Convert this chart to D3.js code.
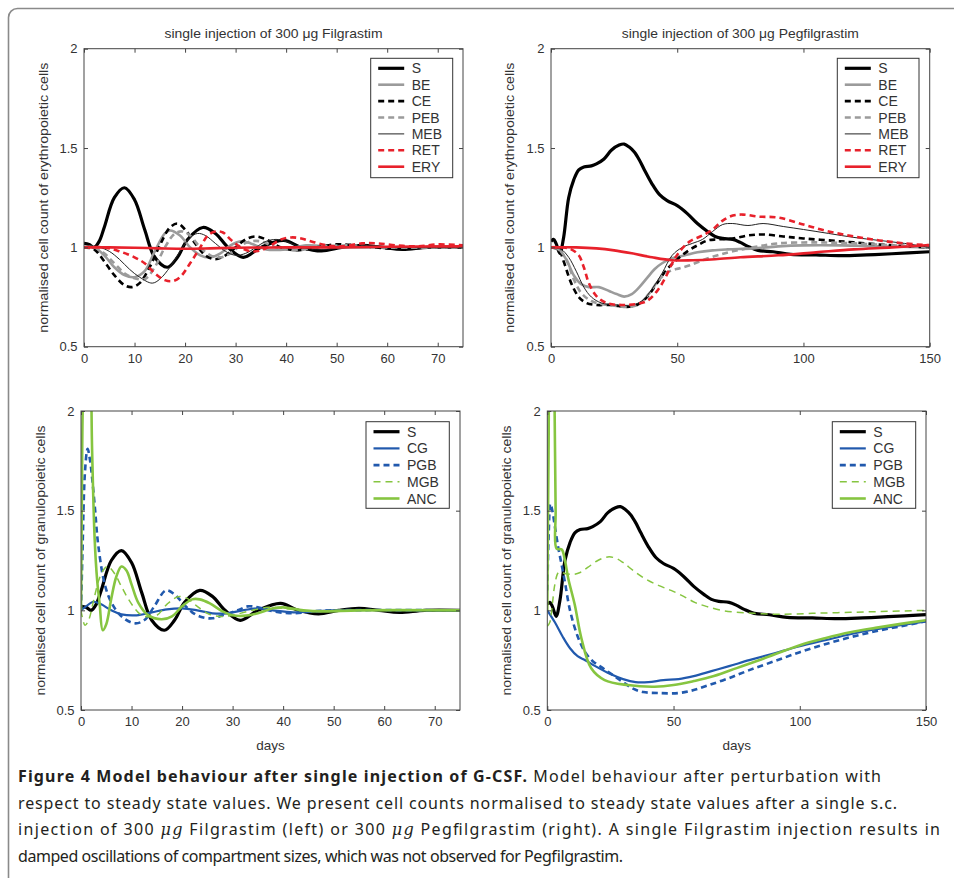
<!DOCTYPE html>
<html>
<head>
<meta charset="utf-8">
<script src="https://cdn.jsdelivr.net/npm/d3@7.9.0/dist/d3.min.js"></script>
<style>
body { margin: 0; background: #fff; }
svg { display: block; font-family: "Liberation Sans", Arial, sans-serif; }
</style>
</head>
<body>
<svg id="fig" width="954" height="878"></svg>
<script>
// ---- tick labels / categories ----
const ticksFil = [0, 10, 20, 30, 40, 50, 60, 70];
const ticksPeg = [0, 50, 100, 150];
const ticksY = [0.5, 1, 1.5, 2];
const eryNames = ["S", "BE", "CE", "PEB", "MEB", "RET", "ERY"];
const graNames = ["S", "CG", "PGB", "MGB", "ANC"];

// ---- Filgrastim (days 0-75), [day, normalised count] ----
const filS = [[0,1.02],[1,1.015],[2,1.0],[3,1.03],[4,1.1],[6,1.25],[8,1.30],[10,1.24],[12,1.09],[14,0.95],[16.5,0.9],[18.5,0.95],[20.5,1.04],[23.5,1.1],[26,1.07],[28.5,1.0],[31.5,0.95],[35,1.0],[39.5,1.035],[43,1.0],[47,0.982],[51,1.0],[55,1.01],[59,1.0],[63,0.99],[68,1.0],[75,1.0]];
const filBE = [[0,1.0],[2,1.0],[4,0.96],[6,0.9],[8,0.86],[10,0.85],[12,0.88],[14,0.98],[16,1.07],[17,1.085],[19,1.06],[21,1.0],[23,0.96],[25,0.95],[27,0.97],[29,1.01],[31,1.03],[33,1.02],[36,0.99],[40,0.99],[44,1.01],[50,1.0],[60,1.0],[75,1.0]];
const filCE = [[0,1.0],[2,0.99],[4,0.93],[6,0.86],[8,0.81],[9.5,0.8],[11,0.82],[13,0.9],[15,1.01],[17,1.1],[18.5,1.12],[20,1.09],[22,1.02],[24,0.96],[26,0.94],[28,0.96],[30,1.0],[32,1.04],[34,1.055],[36,1.04],[39,1.0],[42,0.985],[46,1.0],[50,1.015],[54,1.01],[60,0.995],[66,1.0],[75,1.0]];
const filPEB = [[0,1.0],[2,1.0],[4,0.97],[6,0.92],[8,0.87],[10,0.845],[12,0.84],[14,0.9],[16,1.0],[18,1.07],[19.5,1.08],[21,1.06],[23,1.0],[25,0.96],[27,0.95],[29,0.97],[31,1.01],[33,1.03],[35,1.03],[38,1.0],[42,0.985],[46,1.0],[52,1.01],[60,1.0],[75,1.0]];
const filMEB = [[0,1.0],[3,1.0],[5,0.98],[7,0.94],[9,0.89],[11,0.85],[13.5,0.82],[15,0.84],[17,0.9],[19,0.98],[21,1.05],[22.5,1.07],[24,1.06],[26,1.02],[28,0.98],[30,0.96],[32,0.97],[34,1.0],[36,1.03],[38,1.04],[40,1.03],[43,1.0],[47,0.99],[52,1.0],[56,1.01],[62,1.0],[75,1.0]];
const filRET = [[0,1.0],[4,1.0],[7,0.98],[10,0.95],[12,0.92],[14,0.87],[16,0.835],[17.5,0.83],[19,0.85],[21,0.92],[23,1.0],[24.5,1.06],[26,1.08],[27.5,1.075],[29,1.04],[31,1.0],[33,0.98],[35,0.985],[37,1.01],[39,1.04],[41,1.05],[43,1.045],[45,1.03],[48,1.01],[51,1.005],[55,1.02],[58,1.02],[62,1.01],[66,1.005],[70,1.015],[75,1.01]];
const filERY = [[0,1.0],[5,1.0],[10,0.998],[15,0.995],[20,0.993],[25,0.995],[30,0.998],[40,1.0],[50,1.0],[60,1.003],[75,1.005]];
const filCG = [[0,1.0],[1,1.02],[2.5,1.043],[4,1.03],[6,1.0],[8,0.98],[11,0.975],[14,0.99],[17,1.005],[20,1.01],[23,1.0],[26,0.985],[29,0.985],[32,1.0],[35,1.01],[38,1.0],[42,0.99],[46,0.995],[50,1.0],[75,1.0]];
const filPGB = [[0,1.0],[0.3,1.3],[0.8,1.7],[1.3,1.81],[1.8,1.75],[2.7,1.53],[3.4,1.33],[4.7,1.13],[6,1.04],[8,0.97],[10.6,0.935],[12.5,0.95],[14.5,1.02],[16.8,1.1],[18.5,1.08],[20,1.04],[22,0.99],[24,0.965],[26,0.96],[28,0.975],[31,1.0],[33,1.02],[35,1.015],[38,0.995],[42,0.985],[46,0.995],[50,1.0],[75,1.0]];
const filMGB = [[0,1.0],[0.8,0.925],[1.5,0.95],[2.5,1.05],[3.5,1.15],[4.5,1.205],[5.3,1.22],[6.5,1.19],[8,1.12],[9.3,1.06],[11.3,0.99],[12.6,0.97],[15,0.975],[17,1.03],[19.2,1.068],[21,1.06],[23,1.02],[25,0.985],[27,0.97],[30,0.975],[33,0.995],[37,1.015],[40,1.01],[45,0.995],[50,1.0],[75,1.0]];
const filANC = [[0,1.0],[0.15,1.5],[0.4,2.1],[1,2.5],[1.8,2.3],[2.2,1.8],[2.7,1.36],[3.2,1.15],[3.7,1.03],[4.3,0.9],[5,0.93],[6,1.06],[7,1.17],[8,1.22],[9,1.2],[10,1.13],[11.3,1.04],[13.2,0.977],[15.9,0.955],[18,0.97],[20,1.02],[22,1.055],[23.5,1.055],[25.5,1.035],[28,0.995],[30,0.975],[32,0.972],[35,0.985],[38,1.01],[40,1.015],[44,1.0],[48,0.995],[55,1.0],[75,1.0]];

// ---- Pegfilgrastim (days 0-150) ----
const pegS = [[0,1.03],[1,1.04],[2,1.02],[3.5,0.97],[5,1.05],[7,1.25],[9,1.34],[11,1.39],[13,1.405],[16,1.41],[18,1.42],[21,1.445],[24,1.49],[27,1.515],[29,1.52],[31,1.505],[33,1.48],[35,1.44],[37,1.39],[40,1.32],[43,1.265],[46,1.235],[50,1.21],[54,1.17],[58,1.12],[62,1.08],[65,1.055],[68,1.045],[72,1.04],[75,1.025],[78,1.005],[82,0.985],[88,0.978],[95,0.965],[105,0.962],[115,0.958],[125,0.962],[135,0.968],[150,0.978]];
const pegBE = [[0,1.0],[3,0.99],[6,0.94],[9,0.86],[12,0.815],[15,0.8],[19,0.8],[23,0.78],[26,0.765],[29,0.752],[32,0.765],[35,0.8],[38,0.845],[41,0.89],[44,0.92],[48,0.945],[53,0.96],[58,0.975],[64,0.985],[70,0.99],[80,0.995],[90,1.005],[100,1.01],[115,1.01],[130,1.005],[150,1.0]];
const pegCE = [[0,1.0],[3,0.99],[5,0.93],[8,0.82],[11,0.75],[14,0.72],[18,0.71],[24,0.71],[30,0.70],[34,0.71],[38,0.75],[42,0.82],[46,0.89],[50,0.94],[54,0.98],[58,1.01],[62,1.035],[66,1.04],[72,1.045],[78,1.06],[84,1.065],[92,1.055],[100,1.045],[110,1.035],[120,1.025],[135,1.01],[150,1.0]];
const pegPEB = [[0,1.0],[3,0.99],[6,0.94],[9,0.84],[12,0.77],[16,0.73],[20,0.715],[26,0.705],[31,0.70],[35,0.715],[39,0.77],[43,0.84],[47,0.88],[51,0.895],[55,0.91],[60,0.935],[66,0.96],[72,0.98],[80,1.0],[90,1.02],[105,1.025],[120,1.02],[135,1.01],[150,1.0]];
const pegMEB = [[0,1.0],[4,0.99],[7,0.95],[10,0.88],[13,0.8],[16,0.75],[20,0.72],[26,0.71],[32,0.71],[36,0.73],[40,0.79],[44,0.87],[48,0.96],[52,1.0],[56,1.02],[60,1.04],[64,1.08],[68,1.115],[72,1.12],[78,1.11],[84,1.12],[92,1.105],[100,1.09],[110,1.07],[120,1.05],[130,1.035],[140,1.02],[150,1.0]];
const pegRET = [[0,1.0],[5,1.0],[8,0.99],[11,0.96],[13,0.9],[15,0.82],[18,0.755],[22,0.72],[28,0.71],[34,0.715],[38,0.73],[42,0.78],[45,0.84],[48,0.92],[51,0.98],[55,1.03],[60,1.06],[64,1.09],[68,1.135],[72,1.16],[76,1.165],[82,1.155],[90,1.15],[100,1.115],[110,1.08],[120,1.055],[130,1.035],[140,1.02],[150,1.01]];
const pegERY = [[0,1.0],[10,1.0],[18,0.995],[25,0.985],[32,0.97],[40,0.95],[48,0.935],[56,0.935],[65,0.94],[75,0.95],[90,0.96],[105,0.975],[120,0.99],[135,1.0],[150,1.012]];
const pegCG = [[0,1.0],[3,0.94],[6,0.87],[9,0.81],[12,0.77],[15,0.75],[19,0.72],[25,0.68],[30,0.655],[35,0.64],[40,0.64],[46,0.65],[52,0.655],[58,0.67],[65,0.695],[72,0.72],[80,0.75],[90,0.785],[100,0.82],[110,0.85],[120,0.88],[130,0.905],[140,0.925],[150,0.945]];
const pegPGB = [[0,1.1],[0.6,1.4],[1.2,1.535],[2,1.5],[3,1.42],[4.4,1.31],[5.5,1.24],[7,1.14],[9,1.0],[12,0.87],[15,0.79],[18,0.745],[22,0.71],[26,0.675],[30,0.64],[34,0.607],[38,0.59],[44,0.585],[52,0.585],[58,0.6],[64,0.625],[72,0.66],[80,0.7],[90,0.745],[100,0.79],[110,0.83],[120,0.865],[130,0.895],[140,0.92],[150,0.945]];
const pegMGB = [[0,0.92],[1,0.94],[2,1.03],[3,1.13],[4.5,1.19],[7,1.185],[10,1.18],[13,1.19],[16,1.215],[20,1.25],[24,1.268],[27,1.262],[30,1.24],[34,1.2],[38.6,1.16],[44,1.125],[49,1.1],[54,1.07],[58.4,1.04],[63,1.02],[69,1.0],[75,0.99],[82,0.985],[92,0.98],[105,0.985],[120,0.99],[135,0.995],[150,1.0]];
const pegANC = [[0,1.0],[0.5,1.8],[1.1,2.3],[2.3,2.4],[2.9,2.0],[3.3,1.5],[3.7,1.31],[5.7,1.305],[7,1.25],[8.3,1.16],[10.9,1.027],[13.5,0.86],[17.4,0.709],[22.7,0.65],[31.9,0.625],[42.5,0.617],[50,0.625],[58,0.645],[66,0.67],[75,0.71],[85,0.755],[100,0.825],[110,0.86],[120,0.89],[130,0.912],[140,0.932],[150,0.95]];

// ---- styles ----
const red = "#e8212b", blue = "#2159ad", green = "#86c540", gray = "#9b9b9b";
const styles = {
  S:   {color: "#000", width: 3.2},
  BE:  {color: gray, width: 2.6},
  CE:  {color: "#000", width: 2.6, dash: "6,4"},
  PEB: {color: gray, width: 2.6, dash: "6,4"},
  MEB: {color: "#222", width: 1},
  RET: {color: red, width: 2.6, dash: "6,4"},
  ERY: {color: red, width: 2.6},
  CG:  {color: blue, width: 2.2},
  PGB: {color: blue, width: 2.6, dash: "6,4"},
  MGB: {color: green, width: 1.5, dash: "7,5"},
  ANC: {color: green, width: 2.6}
};

const panels = [
  {x0: 84, x1: 463, y0: 48.7, y1: 346.7, xmax: 75, xticks: ticksFil,
   title: "single injection of 300 \u03bcg Filgrastim", titleLen: 218,
   ylab: "normalised cell count of erythropoietic cells", ylx: 43.5,
   names: eryNames, data: [filS, filBE, filCE, filPEB, filMEB, filRET, filERY],
   leg: {x: 370.7, y: 58.3, w: 82, h: 119.4, step: 16.4}},
  {x0: 551, x1: 929.7, y0: 48.7, y1: 346.7, xmax: 150, xticks: ticksPeg,
   title: "single injection of 300 \u03bcg Pegfilgrastim", titleLen: 237,
   ylab: "normalised cell count of erythropoietic cells", ylx: 509.5,
   names: eryNames, data: [pegS, pegBE, pegCE, pegPEB, pegMEB, pegRET, pegERY],
   leg: {x: 837.3, y: 58.3, w: 81.7, h: 119.4, step: 16.4}},
  {x0: 81, x1: 460, y0: 411, y1: 710, xmax: 75, xticks: ticksFil, xlab: "days",
   ylab: "normalised cell count of granulopoietic cells", ylx: 40,
   names: graNames, data: [filS, filCG, filPGB, filMGB, filANC],
   leg: {x: 366, y: 421.7, w: 83.3, h: 86.6, step: 16.7}},
  {x0: 547.3, x1: 926, y0: 411, y1: 710, xmax: 150, xticks: ticksPeg, xlab: "days",
   ylab: "normalised cell count of granulopoietic cells", ylx: 506.7,
   names: graNames, data: [pegS, pegCG, pegPGB, pegMGB, pegANC],
   leg: {x: 832.3, y: 421.7, w: 83.4, h: 86.6, step: 16.7}}
];

const svg = d3.select("#fig");

// outer frame (open at right and bottom, as cropped)
svg.append("rect")
  .attr("x", 8.5).attr("y", 8.5).attr("width", 980).attr("height", 900)
  .attr("rx", 9).attr("fill", "none").attr("stroke", "#8a8a8a").attr("stroke-width", 1.6);

panels.forEach((p, pi) => {
  const x = d3.scaleLinear().domain([0, p.xmax]).range([p.x0, p.x1]);
  const y = d3.scaleLinear().domain([0.5, 2]).range([p.y1, p.y0]);
  const g = svg.append("g");

  g.append("clipPath").attr("id", "clip" + pi)
    .append("rect").attr("x", p.x0).attr("y", p.y0)
    .attr("width", p.x1 - p.x0).attr("height", p.y1 - p.y0);

  const line = d3.line()
    .x(d => x(d[0])).y(d => y(d[1]))
    .curve(d3.curveCatmullRom.alpha(0.5));

  const lines = g.append("g").attr("clip-path", `url(#clip${pi})`);
  p.data.forEach((series, i) => {
    const st = styles[p.names[i]];
    lines.append("path")
      .attr("d", line(series))
      .attr("fill", "none")
      .attr("stroke", st.color)
      .attr("stroke-width", st.width)
      .attr("stroke-dasharray", st.dash || null)
      .attr("stroke-linejoin", "round");
  });

  // axes, MATLAB style: inward ticks on all four sides
  const fmt = d => String(d);
  const axB = g.append("g").attr("transform", `translate(0,${p.y1})`)
    .call(d3.axisBottom(x).tickValues(p.xticks).tickFormat(fmt).tickSize(-4).tickPadding(7));
  const axL = g.append("g").attr("transform", `translate(${p.x0},0)`)
    .call(d3.axisLeft(y).tickValues(ticksY).tickFormat(fmt).tickSize(-4).tickPadding(6.5));
  const axT = g.append("g").attr("transform", `translate(0,${p.y0})`)
    .call(d3.axisTop(x).tickValues(p.xticks).tickFormat("").tickSize(-4));
  const axR = g.append("g").attr("transform", `translate(${p.x1},0)`)
    .call(d3.axisRight(y).tickValues(ticksY).tickFormat("").tickSize(-4));
  [axB, axL, axT, axR].forEach(a => {
    a.select(".domain").remove();
    a.selectAll(".tick line").attr("stroke", "#444");
    a.selectAll("text").attr("fill", "#333").style("font-size", "13px")
      .style("font-family", '"Liberation Sans", Arial, sans-serif');
  });

  g.append("rect")
    .attr("x", p.x0).attr("y", p.y0)
    .attr("width", p.x1 - p.x0).attr("height", p.y1 - p.y0)
    .attr("fill", "none").attr("stroke", "#444").attr("stroke-width", 1);

  if (p.title) {
    g.append("text").attr("x", (p.x0 + p.x1) / 2).attr("y", 37.5)
      .attr("text-anchor", "middle").attr("fill", "#333").style("font-size", "13.5px")
      .attr("textLength", p.titleLen).attr("lengthAdjust", "spacingAndGlyphs")
      .text(p.title);
  }
  if (p.xlab) {
    g.append("text").attr("x", (p.x0 + p.x1) / 2).attr("y", 750)
      .attr("text-anchor", "middle").attr("fill", "#333").style("font-size", "13.5px")
      .text(p.xlab);
  }
  g.append("text")
    .attr("transform", `translate(${p.ylx},${(p.y0 + p.y1) / 2}) rotate(-90)`)
    .attr("text-anchor", "middle").attr("dy", "0.35em")
    .attr("fill", "#333").style("font-size", "13.5px")
    .attr("textLength", 270).attr("lengthAdjust", "spacingAndGlyphs")
    .text(p.ylab);

  // legend
  const L = p.leg;
  const lg = g.append("g");
  lg.append("rect").attr("x", L.x).attr("y", L.y).attr("width", L.w).attr("height", L.h)
    .attr("fill", "#fff").attr("stroke", "#333").attr("stroke-width", 1);
  p.names.forEach((n, i) => {
    const st = styles[n];
    const cy = L.y + 10 + i * L.step;
    lg.append("line")
      .attr("x1", L.x + 7.5).attr("x2", L.x + 33.5).attr("y1", cy).attr("y2", cy)
      .attr("stroke", st.color).attr("stroke-width", st.width)
      .attr("stroke-dasharray", st.dash || null);
    lg.append("text").attr("x", L.x + 41).attr("y", cy).attr("dy", "0.36em")
      .attr("fill", "#333").style("font-size", "14px").text(n);
  });
});

// caption: same glyph size on every line, letter spacing fitted to the line ends
const cap = svg.append("g").style("font-family", '"Noto Sans", "Open Sans", sans-serif')
  .style("font-size", "16px").attr("fill", "#231f20");
const l1 = cap.append("text").attr("x", 18).attr("y", 782)
  .attr("textLength", 863).attr("lengthAdjust", "spacing");
l1.append("tspan").style("font-weight", "bold")
  .text("Figure 4 Model behaviour after single injection of G-CSF.");
l1.append("tspan").text(" Model behaviour after perturbation with");
cap.append("text").attr("x", 18).attr("y", 808.5)
  .attr("textLength", 879).attr("lengthAdjust", "spacing")
  .text("respect to steady state values. We present cell counts normalised to steady state values after a single s.c.");
const l3 = cap.append("text").attr("x", 18).attr("y", 835)
  .attr("textLength", 922).attr("lengthAdjust", "spacing");
l3.append("tspan").text("injection of 300 ");
l3.append("tspan").style("font-style", "italic").style("font-family", '"DejaVu Serif", serif').text("\u03bcg");
l3.append("tspan").text(" Filgrastim (left) or 300 ");
l3.append("tspan").style("font-style", "italic").style("font-family", '"DejaVu Serif", serif').text("\u03bcg");
l3.append("tspan").text(" Pegfilgrastim (right). A single Filgrastim injection results in");
cap.append("text").attr("x", 18).attr("y", 861.5)
  .attr("textLength", 605).attr("lengthAdjust", "spacing")
  .text("damped oscillations of compartment sizes, which was not observed for Pegfilgrastim.");
</script>
</body>
</html>
